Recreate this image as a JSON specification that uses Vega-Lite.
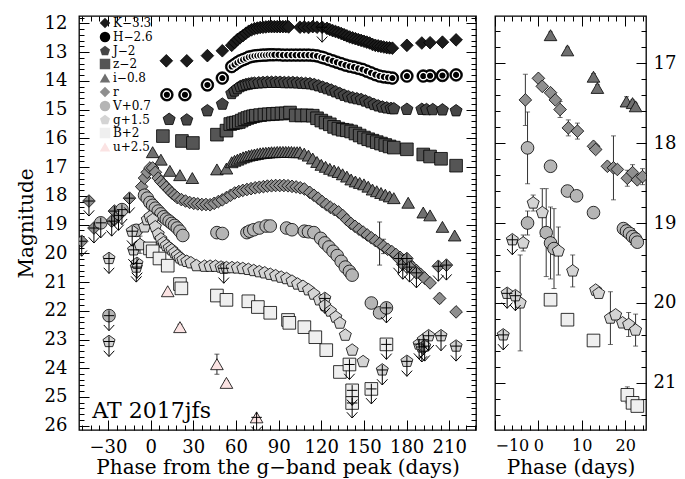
{
"$schema": "https://vega.github.io/schema/vega-lite/v6.json",
"padding": {"left": 15, "top": 13, "right": 2, "bottom": 0},
"config": {
  "font": "DejaVu Serif",
  "view": {"stroke": "black", "strokeWidth": 1.3},
  "axis": {"grid": false, "domain": false, "tickColor": "black", "labelColor": "black", "titleColor": "black", "titleFontWeight": "normal", "labelFont": "DejaVu Serif", "titleFont": "DejaVu Serif", "minExtent": 0, "tickWidth": 1, "labelOverlap": false}
},
"datasets": {
"L": [
{"b":"K","t":11,"m":13.3},{"b":"K","t":25.4,"m":13.3},{"b":"K","t":39.9,"m":13.12},{"b":"K","t":50.4,"m":12.95},
{"b":"K","t":57,"m":12.76},{"b":"K","t":59,"m":12.66},{"b":"K","t":61,"m":12.56},{"b":"K","t":63,"m":12.49},{"b":"K","t":65,"m":12.42},{"b":"K","t":67,"m":12.34},{"b":"K","t":69,"m":12.27},{"b":"K","t":71,"m":12.22},{"b":"K","t":73,"m":12.18},{"b":"K","t":75,"m":12.16},{"b":"K","t":77,"m":12.14},{"b":"K","t":79,"m":12.13},{"b":"K","t":81,"m":12.12},{"b":"K","t":83,"m":12.11},{"b":"K","t":85,"m":12.11},{"b":"K","t":87,"m":12.11},{"b":"K","t":89,"m":12.11},{"b":"K","t":91,"m":12.11},{"b":"K","t":93,"m":12.11},{"b":"K","t":95,"m":12.11},{"b":"K","t":97,"m":12.12},
{"b":"K","t":105,"m":12.13},{"b":"K","t":108,"m":12.12},{"b":"K","t":111,"m":12.14},{"b":"K","t":114,"m":12.11},{"b":"K","t":117,"m":12.13},{"b":"K","t":120.6,"m":12.13,"l":1},
{"b":"K","t":124,"m":12.17},{"b":"K","t":126,"m":12.21},{"b":"K","t":128,"m":12.25},{"b":"K","t":130,"m":12.28},{"b":"K","t":132,"m":12.31},{"b":"K","t":134,"m":12.35},{"b":"K","t":136,"m":12.39},{"b":"K","t":138,"m":12.43},{"b":"K","t":140,"m":12.47},{"b":"K","t":142,"m":12.5},{"b":"K","t":144,"m":12.53},{"b":"K","t":146,"m":12.56},{"b":"K","t":148,"m":12.59},{"b":"K","t":150,"m":12.62},{"b":"K","t":152,"m":12.65},{"b":"K","t":154,"m":12.68},{"b":"K","t":156,"m":12.73},{"b":"K","t":158,"m":12.76},{"b":"K","t":160,"m":12.78},{"b":"K","t":162,"m":12.8},{"b":"K","t":164,"m":12.82},{"b":"K","t":166,"m":12.84},{"b":"K","t":168,"m":12.85},{"b":"K","t":170,"m":12.86},
{"b":"K","t":180.2,"m":12.76},{"b":"K","t":190.7,"m":12.68},{"b":"K","t":196.5,"m":12.67},{"b":"K","t":205.2,"m":12.65},{"b":"K","t":214.8,"m":12.57},

{"b":"H","t":11.4,"m":14.48},{"b":"H","t":24.1,"m":14.48},{"b":"H","t":39.9,"m":14.14},{"b":"H","t":50.4,"m":13.9},
{"b":"H","t":57,"m":13.5},{"b":"H","t":59,"m":13.43},{"b":"H","t":61,"m":13.36},{"b":"H","t":63,"m":13.3},{"b":"H","t":65,"m":13.26},{"b":"H","t":67,"m":13.22},{"b":"H","t":69,"m":13.17},{"b":"H","t":71,"m":13.15},{"b":"H","t":73,"m":13.13},{"b":"H","t":75,"m":13.12},{"b":"H","t":77,"m":13.11},{"b":"H","t":79,"m":13.1},{"b":"H","t":81,"m":13.1},{"b":"H","t":83,"m":13.09},{"b":"H","t":85,"m":13.09},{"b":"H","t":87,"m":13.09},{"b":"H","t":90,"m":13.09},{"b":"H","t":93,"m":13.1},{"b":"H","t":96,"m":13.1},{"b":"H","t":99,"m":13.1},{"b":"H","t":102,"m":13.1},{"b":"H","t":105,"m":13.1},{"b":"H","t":108,"m":13.1},{"b":"H","t":111,"m":13.1},{"b":"H","t":114,"m":13.11},{"b":"H","t":117,"m":13.13},{"b":"H","t":120,"m":13.17},{"b":"H","t":122,"m":13.2},{"b":"H","t":125,"m":13.25},{"b":"H","t":128,"m":13.3},{"b":"H","t":131,"m":13.35},{"b":"H","t":134,"m":13.4},{"b":"H","t":137,"m":13.45},{"b":"H","t":140,"m":13.49},{"b":"H","t":143,"m":13.52},{"b":"H","t":146,"m":13.56},{"b":"H","t":149,"m":13.6},{"b":"H","t":152,"m":13.66},{"b":"H","t":155,"m":13.72},{"b":"H","t":158,"m":13.78},{"b":"H","t":161,"m":13.83},{"b":"H","t":164,"m":13.86},{"b":"H","t":167,"m":13.88},{"b":"H","t":170,"m":13.9},
{"b":"H","t":180.2,"m":13.83},{"b":"H","t":191.7,"m":13.83},{"b":"H","t":196.5,"m":13.82},{"b":"H","t":205.2,"m":13.81},{"b":"H","t":214.8,"m":13.79},

{"b":"J","t":13,"m":15.34},{"b":"J","t":25.4,"m":15.36},{"b":"J","t":39.9,"m":15.04},{"b":"J","t":50.4,"m":14.81},
{"b":"J","t":57,"m":14.44},{"b":"J","t":59,"m":14.35},{"b":"J","t":61,"m":14.27},{"b":"J","t":63,"m":14.2},{"b":"J","t":65,"m":14.16},{"b":"J","t":67,"m":14.13},{"b":"J","t":69,"m":14.11},{"b":"J","t":71,"m":14.09},{"b":"J","t":73,"m":14.08},{"b":"J","t":76,"m":14.07},{"b":"J","t":79,"m":14.06},{"b":"J","t":82,"m":14.05},{"b":"J","t":85,"m":14.05},{"b":"J","t":88,"m":14.05},{"b":"J","t":91,"m":14.05},{"b":"J","t":94,"m":14.06},{"b":"J","t":97,"m":14.06},{"b":"J","t":100,"m":14.06},{"b":"J","t":103,"m":14.07},{"b":"J","t":106,"m":14.08},{"b":"J","t":109,"m":14.09},{"b":"J","t":112,"m":14.1},{"b":"J","t":115,"m":14.13},{"b":"J","t":118,"m":14.17},{"b":"J","t":121,"m":14.22},{"b":"J","t":124,"m":14.27},{"b":"J","t":127,"m":14.32},{"b":"J","t":130,"m":14.38},{"b":"J","t":133,"m":14.44},{"b":"J","t":136,"m":14.5},{"b":"J","t":139,"m":14.55},{"b":"J","t":142,"m":14.59},{"b":"J","t":145,"m":14.62},{"b":"J","t":148,"m":14.65},{"b":"J","t":151,"m":14.7},{"b":"J","t":154,"m":14.76},{"b":"J","t":157,"m":14.82},{"b":"J","t":160,"m":14.87},{"b":"J","t":163,"m":14.91},{"b":"J","t":166,"m":14.94},{"b":"J","t":169,"m":14.96},{"b":"J","t":171,"m":14.97},
{"b":"J","t":180.2,"m":14.99},{"b":"J","t":190.7,"m":14.99},{"b":"J","t":194,"m":15.0},{"b":"J","t":198.4,"m":15.0},{"b":"J","t":205.2,"m":15.01},{"b":"J","t":214.8,"m":15.04},

{"b":"z","t":8.6,"m":15.92},{"b":"z","t":22,"m":16.09},{"b":"z","t":29.7,"m":16.16},{"b":"z","t":46.6,"m":15.87},{"b":"z","t":53.3,"m":15.73},
{"b":"z","t":56,"m":15.5},{"b":"z","t":58,"m":15.47},{"b":"z","t":60,"m":15.45},{"b":"z","t":62,"m":15.43},{"b":"z","t":64,"m":15.38},{"b":"z","t":66,"m":15.33},{"b":"z","t":68,"m":15.29},{"b":"z","t":70,"m":15.26},{"b":"z","t":72,"m":15.23},{"b":"z","t":74,"m":15.21},{"b":"z","t":77,"m":15.19},{"b":"z","t":80,"m":15.17},{"b":"z","t":83,"m":15.16},{"b":"z","t":86,"m":15.15},{"b":"z","t":89,"m":15.14},{"b":"z","t":92,"m":15.13},{"b":"z","t":95,"m":15.13},{"b":"z","t":98,"m":15.1},{"b":"z","t":102,"m":15.2},{"b":"z","t":106,"m":15.2},{"b":"z","t":110,"m":15.2},{"b":"z","t":114,"m":15.21},{"b":"z","t":117,"m":15.3},{"b":"z","t":120,"m":15.38},{"b":"z","t":123,"m":15.45},{"b":"z","t":126,"m":15.51},{"b":"z","t":129,"m":15.6},{"b":"z","t":132,"m":15.66},{"b":"z","t":135,"m":15.7},{"b":"z","t":138,"m":15.72},{"b":"z","t":141,"m":15.76},{"b":"z","t":144,"m":15.83},{"b":"z","t":147,"m":15.9},{"b":"z","t":150,"m":15.97},{"b":"z","t":153,"m":16.03},{"b":"z","t":156,"m":16.08},{"b":"z","t":159,"m":16.13},{"b":"z","t":162,"m":16.18},{"b":"z","t":165,"m":16.23},{"b":"z","t":168,"m":16.28},{"b":"z","t":171,"m":16.32},
{"b":"z","t":180.2,"m":16.38},{"b":"z","t":191.7,"m":16.56},{"b":"z","t":196.5,"m":16.63},{"b":"z","t":204.2,"m":16.71,"e":0.06},{"b":"z","t":214.8,"m":16.95,"e":0.06},

{"b":"i","t":1.4,"m":16.48,"e":0.05},{"b":"i","t":7.2,"m":16.74},{"b":"i","t":13.5,"m":17.13,"e":0.05},{"b":"i","t":20.6,"m":17.28},{"b":"i","t":29.3,"m":17.38,"e":0.04},{"b":"i","t":46.6,"m":17.08},{"b":"i","t":53.3,"m":17.05},
{"b":"i","t":57,"m":16.83},{"b":"i","t":59,"m":16.78},{"b":"i","t":61,"m":16.74},{"b":"i","t":63,"m":16.7},{"b":"i","t":65,"m":16.66},{"b":"i","t":67,"m":16.63},{"b":"i","t":69,"m":16.6},{"b":"i","t":71,"m":16.58},{"b":"i","t":73,"m":16.56},{"b":"i","t":75,"m":16.54},{"b":"i","t":77,"m":16.52},{"b":"i","t":79,"m":16.51},{"b":"i","t":81,"m":16.5},{"b":"i","t":83,"m":16.49},{"b":"i","t":85,"m":16.48},{"b":"i","t":87,"m":16.48},{"b":"i","t":89,"m":16.47},{"b":"i","t":91,"m":16.47},{"b":"i","t":93,"m":16.47},{"b":"i","t":95,"m":16.47},{"b":"i","t":97,"m":16.47},{"b":"i","t":99,"m":16.47},{"b":"i","t":101,"m":16.48},{"b":"i","t":103,"m":16.48},{"b":"i","t":105,"m":16.48},{"b":"i","t":108,"m":16.53},{"b":"i","t":111,"m":16.6},{"b":"i","t":114,"m":16.7},{"b":"i","t":117,"m":16.82},{"b":"i","t":120,"m":16.92},{"b":"i","t":123,"m":16.99},{"b":"i","t":126,"m":17.06},{"b":"i","t":129,"m":17.12},{"b":"i","t":132,"m":17.17},{"b":"i","t":135,"m":17.25},{"b":"i","t":138,"m":17.33},{"b":"i","t":141,"m":17.43},{"b":"i","t":144,"m":17.5},{"b":"i","t":147,"m":17.55},{"b":"i","t":150,"m":17.6},{"b":"i","t":153,"m":17.68},{"b":"i","t":156,"m":17.78},{"b":"i","t":159,"m":17.84},{"b":"i","t":162,"m":17.9},{"b":"i","t":165,"m":17.96},{"b":"i","t":168,"m":18.02},{"b":"i","t":171,"m":18.08},
{"b":"i","t":181.1,"m":18.24},{"b":"i","t":191.7,"m":18.58},{"b":"i","t":196.5,"m":18.68},{"b":"i","t":205.2,"m":19.08},{"b":"i","t":213.8,"m":19.38},

{"b":"r","t":-48.5,"m":19.58,"l":1},{"b":"r","t":-43.4,"m":18.18,"l":1},{"b":"r","t":-39.9,"m":19.12,"l":1},{"b":"r","t":-27.4,"m":18.88,"l":1},{"b":"r","t":-25.5,"m":18.53,"l":1},{"b":"r","t":-22.6,"m":18.68,"l":1},{"b":"r","t":-14.9,"m":18.08,"l":1},
{"b":"r","t":-6.3,"m":17.68,"e":0.12},{"b":"r","t":-4.3,"m":17.38,"e":0.1},{"b":"r","t":-2.4,"m":17.18},{"b":"r","t":-0.5,"m":17.03},{"b":"r","t":1.4,"m":17.03},{"b":"r","t":3.3,"m":17.18},{"b":"r","t":5.3,"m":17.38},{"b":"r","t":7.2,"m":17.5},{"b":"r","t":9.1,"m":17.6},{"b":"r","t":11,"m":17.7},{"b":"r","t":13,"m":17.8},{"b":"r","t":14.9,"m":17.9},{"b":"r","t":16.8,"m":17.98},{"b":"r","t":18.7,"m":18.06},{"b":"r","t":21.6,"m":18.13,"e":0.06},{"b":"r","t":24.5,"m":18.18},{"b":"r","t":27.4,"m":18.23},{"b":"r","t":30.3,"m":18.26},{"b":"r","t":33.1,"m":18.28},{"b":"r","t":36,"m":18.3},{"b":"r","t":38.9,"m":18.3},{"b":"r","t":41.8,"m":18.31},{"b":"r","t":44.7,"m":18.26},{"b":"r","t":47.6,"m":18.2},{"b":"r","t":50.4,"m":18.14},{"b":"r","t":53.3,"m":18.06},{"b":"r","t":56.2,"m":17.98},{"b":"r","t":59.1,"m":17.9},{"b":"r","t":62,"m":17.85},{"b":"r","t":64.8,"m":17.81},{"b":"r","t":67.7,"m":17.78},{"b":"r","t":70.6,"m":17.75},{"b":"r","t":73.5,"m":17.72},{"b":"r","t":76.4,"m":17.7},{"b":"r","t":79.3,"m":17.68},{"b":"r","t":82.1,"m":17.66},{"b":"r","t":85,"m":17.65},{"b":"r","t":87.9,"m":17.64},{"b":"r","t":90.8,"m":17.64},{"b":"r","t":93.7,"m":17.64},{"b":"r","t":96.6,"m":17.65},{"b":"r","t":99.4,"m":17.67},{"b":"r","t":102.3,"m":17.69},{"b":"r","t":105.2,"m":17.72},{"b":"r","t":108.1,"m":17.76},{"b":"r","t":111.9,"m":17.88,"e":0.06},{"b":"r","t":114.8,"m":17.98},{"b":"r","t":117.7,"m":18.08},{"b":"r","t":120.6,"m":18.2},{"b":"r","t":123.5,"m":18.3},{"b":"r","t":126.4,"m":18.4},{"b":"r","t":129.2,"m":18.48},{"b":"r","t":132.1,"m":18.56},{"b":"r","t":135,"m":18.68},{"b":"r","t":137.9,"m":18.83},{"b":"r","t":140.8,"m":18.96},{"b":"r","t":143.7,"m":19.06},{"b":"r","t":146.5,"m":19.16},{"b":"r","t":149.4,"m":19.26},{"b":"r","t":152.3,"m":19.36},{"b":"r","t":155.2,"m":19.46},{"b":"r","t":158.1,"m":19.56},{"b":"r","t":161,"m":19.66,"e":0.75},{"b":"r","t":163.8,"m":19.76,"e":0.25},{"b":"r","t":166.7,"m":19.86},{"b":"r","t":169.6,"m":19.94},{"b":"r","t":172.5,"m":20.04},{"b":"r","t":175.4,"m":20.14},{"b":"r","t":178.2,"m":20.24},{"b":"r","t":181.1,"m":20.33},{"b":"r","t":184,"m":20.48},{"b":"r","t":186.9,"m":20.6},{"b":"r","t":189.8,"m":20.73},{"b":"r","t":192.7,"m":20.86},{"b":"r","t":196.5,"m":21.03},{"b":"r","t":203.2,"m":21.57,"e":0.15},{"b":"r","t":214.8,"m":22.04,"e":0.1},
{"b":"r","t":174.4,"m":20.18,"l":1},{"b":"r","t":177.3,"m":20.38,"l":1},{"b":"r","t":180.2,"m":20.18,"l":1},{"b":"r","t":182.1,"m":20.48,"l":1},{"b":"r","t":186.9,"m":20.68,"l":1},{"b":"r","t":202.3,"m":20.45,"l":1},{"b":"r","t":208,"m":20.41,"l":1},

{"b":"V","t":-35.1,"m":18.94,"l":1},{"b":"V","t":-20.2,"m":18.48,"l":1},{"b":"V","t":-29.3,"m":22.17,"l":1},{"b":"V","t":-10.1,"m":19.2,"e":0.2},
{"b":"V","t":-4.3,"m":17.98},{"b":"V","t":-2.4,"m":18.08},{"b":"V","t":-0.5,"m":18.23},{"b":"V","t":1.4,"m":18.33},{"b":"V","t":3.3,"m":18.43},{"b":"V","t":5.3,"m":18.53},{"b":"V","t":7.2,"m":18.63},{"b":"V","t":9.1,"m":18.73},{"b":"V","t":11,"m":18.81},{"b":"V","t":13,"m":18.88},{"b":"V","t":14.9,"m":18.96},{"b":"V","t":16.8,"m":19.03},{"b":"V","t":18.7,"m":19.12},{"b":"V","t":20.6,"m":19.23},{"b":"V","t":22.6,"m":19.38},
{"b":"V","t":46.6,"m":19.28},{"b":"V","t":50.4,"m":19.31},{"b":"V","t":67.7,"m":19.28},{"b":"V","t":69.7,"m":19.23},{"b":"V","t":72.5,"m":19.18},{"b":"V","t":76.4,"m":19.12},{"b":"V","t":81.2,"m":19.05},{"b":"V","t":84.1,"m":19.05},{"b":"V","t":95.6,"m":19.12},{"b":"V","t":99.4,"m":19.18},{"b":"V","t":108.1,"m":19.23},{"b":"V","t":111,"m":19.25},{"b":"V","t":114.8,"m":19.28},{"b":"V","t":119.6,"m":19.48},{"b":"V","t":122.5,"m":19.64},{"b":"V","t":125.4,"m":19.78},{"b":"V","t":128.3,"m":19.93},{"b":"V","t":131.2,"m":20.08},{"b":"V","t":134,"m":20.28},{"b":"V","t":136.9,"m":20.48},{"b":"V","t":139.8,"m":20.63},{"b":"V","t":141.7,"m":20.76},
{"b":"V","t":155.2,"m":21.73,"e":0.15},{"b":"V","t":161,"m":22.07,"e":0.15},{"b":"V","t":165.8,"m":21.9,"l":1},

{"b":"g","t":-29.3,"m":20.18,"l":1},{"b":"g","t":-29.3,"m":23.07,"l":1},{"b":"g","t":-13,"m":19.23,"l":1},{"b":"g","t":-12,"m":19.88,"l":1},{"b":"g","t":-10.1,"m":20.48,"l":1},{"b":"g","t":-9.6,"m":20.35,"l":1},{"b":"g","t":-7.5,"m":19.7,"e":0.3},
{"b":"g","t":-4.3,"m":19.08},{"b":"g","t":-2.4,"m":18.83},{"b":"g","t":-0.5,"m":18.73},{"b":"g","t":1.4,"m":18.83},{"b":"g","t":3.3,"m":19.08},{"b":"g","t":5.3,"m":19.33},{"b":"g","t":7.2,"m":19.5},{"b":"g","t":9.1,"m":19.63},{"b":"g","t":11,"m":19.73},{"b":"g","t":13,"m":19.81},{"b":"g","t":14.9,"m":19.88},{"b":"g","t":16.8,"m":19.98},{"b":"g","t":18.7,"m":20.08},{"b":"g","t":20.6,"m":20.16,"e":0.2},{"b":"g","t":22.6,"m":20.23},{"b":"g","t":25.4,"m":20.28},{"b":"g","t":28.3,"m":20.33},{"b":"g","t":32.2,"m":20.43},{"b":"g","t":37.9,"m":20.45},{"b":"g","t":41.8,"m":20.45},{"b":"g","t":45.6,"m":20.45},{"b":"g","t":49.5,"m":20.48},{"b":"g","t":51.4,"m":20.52,"l":1},{"b":"g","t":53.3,"m":20.5},{"b":"g","t":57.2,"m":20.5},{"b":"g","t":61,"m":20.51},{"b":"g","t":64.8,"m":20.53},{"b":"g","t":68.7,"m":20.56},{"b":"g","t":72.5,"m":20.6},{"b":"g","t":76.4,"m":20.64},{"b":"g","t":80.2,"m":20.68},{"b":"g","t":84.1,"m":20.73},{"b":"g","t":87.9,"m":20.78},{"b":"g","t":91.8,"m":20.83},{"b":"g","t":95.6,"m":20.88},{"b":"g","t":99.4,"m":20.97},{"b":"g","t":103.3,"m":21.07},{"b":"g","t":107.1,"m":21.15},{"b":"g","t":111,"m":21.27},{"b":"g","t":114.8,"m":21.42},{"b":"g","t":118.7,"m":21.62},{"b":"g","t":122.5,"m":21.57,"l":1},{"b":"g","t":122.5,"m":21.82},{"b":"g","t":126.4,"m":22.01},{"b":"g","t":130.2,"m":22.22},{"b":"g","t":133.1,"m":22.43},{"b":"g","t":136.9,"m":22.85,"e":0.1},{"b":"g","t":141.7,"m":23.37},{"b":"g","t":149.4,"m":23.77},
{"b":"g","t":162.9,"m":24.06,"l":1},{"b":"g","t":180.2,"m":23.76,"l":1},{"b":"g","t":188.8,"m":23.16,"l":1},{"b":"g","t":190.7,"m":23.26,"l":1},{"b":"g","t":191.7,"m":23.01,"l":1},{"b":"g","t":192.7,"m":23.23,"l":1},{"b":"g","t":195.5,"m":22.87,"l":1},{"b":"g","t":204.2,"m":22.87,"l":1},{"b":"g","t":214.8,"m":23.23,"l":1},

{"b":"B","t":-0.5,"m":19.83},{"b":"B","t":1.4,"m":19.93},{"b":"B","t":6.2,"m":20.18},{"b":"B","t":12,"m":20.43},{"b":"B","t":20.6,"m":21.07},{"b":"B","t":21.6,"m":21.22,"e":0.15},{"b":"B","t":46.6,"m":21.47},{"b":"B","t":53.3,"m":21.62},{"b":"B","t":68.7,"m":21.67},{"b":"B","t":75.4,"m":21.87},{"b":"B","t":84.1,"m":22.07},{"b":"B","t":96.6,"m":22.32},{"b":"B","t":97.5,"m":22.42},{"b":"B","t":108.1,"m":22.57},{"b":"B","t":115.8,"m":22.92,"e":0.1},{"b":"B","t":123.5,"m":23.37,"e":0.15},{"b":"B","t":133.1,"m":24.13,"e":0.15},
{"b":"B","t":139.8,"m":23.87,"l":1},{"b":"B","t":141.7,"m":24.77,"l":1},{"b":"B","t":141.7,"m":25.21,"l":1},{"b":"B","t":155.2,"m":24.72,"l":1},{"b":"B","t":165.8,"m":23.17,"l":1},

{"b":"u","t":12,"m":21.32},{"b":"u","t":20.6,"m":22.57,"e":0.1},{"b":"u","t":46.6,"m":23.86,"e":0.35},{"b":"u","t":53.3,"m":24.51,"e":0.08},{"b":"u","t":74.5,"m":25.71,"l":1}
],
"R": [
{"b":"i","t":2.8,"m":16.65,"e":0.04},{"b":"i","t":6.7,"m":16.84,"e":0.04},{"b":"i","t":12.7,"m":17.17,"e":0.04},{"b":"i","t":13.6,"m":17.31,"e":0.04},{"b":"i","t":20.3,"m":17.48,"e":0.06},{"b":"i","t":21.7,"m":17.5,"e":0.04},{"b":"i","t":22.4,"m":17.54,"e":0.04},
{"b":"r","t":-3,"m":17.46,"e":0.32},{"b":"r","t":0,"m":17.19,"e":0.04},{"b":"r","t":0.9,"m":17.29},{"b":"r","t":2.8,"m":17.37,"e":0.05},{"b":"r","t":3.9,"m":17.46},{"b":"r","t":5,"m":17.58,"e":0.1},{"b":"r","t":6.9,"m":17.81,"e":0.1},{"b":"r","t":9,"m":17.85,"e":0.1},{"b":"r","t":12.7,"m":18.04,"e":0.05},{"b":"r","t":13.2,"m":18.08},{"b":"r","t":15.9,"m":18.29,"e":0.05},{"b":"r","t":17.3,"m":18.31,"e":0.4},{"b":"r","t":18.2,"m":18.33},{"b":"r","t":20.5,"m":18.44,"e":0.1},{"b":"r","t":21.7,"m":18.37,"e":0.1},{"b":"r","t":22.8,"m":18.46},{"b":"r","t":24,"m":18.42,"e":0.1},
{"b":"V","t":-2.5,"m":18.06,"e":0.45},{"b":"V","t":2.8,"m":18.29},{"b":"V","t":6.7,"m":18.6,"e":0.04},{"b":"V","t":8.8,"m":18.66,"e":0.04},{"b":"V","t":12.7,"m":18.87},{"b":"V","t":19.6,"m":19.07},{"b":"V","t":20.3,"m":19.1},{"b":"V","t":21,"m":19.13},{"b":"V","t":21.7,"m":19.17,"e":0.1},{"b":"V","t":22.4,"m":19.2},{"b":"V","t":22.8,"m":19.24},{"b":"V","t":-2.5,"m":19.0,"e":0.15},{"b":"V","t":1.8,"m":19.12,"e":0.55},{"b":"V","t":2.8,"m":19.25,"e":0.45},{"b":"V","t":3.6,"m":19.32,"e":0.5},
{"b":"g","t":-1.2,"m":18.75,"e":0.1},{"b":"g","t":0.9,"m":18.87,"e":0.3},{"b":"g","t":-3.5,"m":19.25,"e":0.1},{"b":"g","t":4.6,"m":19.35,"e":0.3},{"b":"g","t":7.9,"m":19.6,"e":0.2},{"b":"g","t":13.2,"m":19.84},{"b":"g","t":13.9,"m":19.88},{"b":"g","t":16.6,"m":20.19,"e":0.33},{"b":"g","t":17.8,"m":20.15},{"b":"g","t":19.4,"m":20.25},{"b":"g","t":20.8,"m":20.27,"e":0.15},{"b":"g","t":22.4,"m":20.34,"e":0.2},{"b":"g","t":-4.2,"m":20.0,"e":0.6},
{"b":"g","t":-7.2,"m":19.88,"l":1},{"b":"g","t":-5.3,"m":19.91,"l":1},{"b":"g","t":-8.1,"m":20.4,"l":1},{"b":"g","t":-6,"m":19.21,"l":1},
{"b":"B","t":2.8,"m":19.96},{"b":"B","t":6.7,"m":20.21},{"b":"B","t":12.7,"m":20.47},{"b":"B","t":20.5,"m":21.15,"e":0.1},{"b":"B","t":21.7,"m":21.25},{"b":"B","t":22.8,"m":21.29}
]
},
"bounds": "flush",
"spacing": 19,
"hconcat": [
{
  "width": 397, "height": 414,
  "data": {"name": "L"},
  "layer": [
    {"transform": [{"filter": "datum.e > 0"}],
     "mark": {"type": "errorbar", "ticks": true, "color": "#222", "thickness": 1, "clip": true},
     "encoding": {
       "x": {"field": "t", "type": "quantitative", "scale": {"domain": [-50.4, 228.8], "nice": false, "zero": false}, "axis": null},
       "y": {"field": "m", "type": "quantitative", "scale": {"domain": [11.74, 26.15], "reverse": true, "nice": false, "zero": false}, "axis": null},
       "yError": {"field": "e"}}},
    {"mark": {"type": "point", "filled": true, "opacity": 1, "stroke": "black", "strokeWidth": 0.8, "size": 160, "clip": true},
     "encoding": {
       "x": {"field": "t", "type": "quantitative", "scale": {"domain": [-50.4, 228.8], "nice": false, "zero": false},
             "axis": {"orient": "bottom", "values": [-30, 0, 30, 60, 90, 120, 150, 180, 210], "tickSize": -10, "labelFontSize": 18, "labelPadding": 18, "title": "Phase from the g\u2212band peak (days)", "titleFontSize": 20, "titlePadding": 1}},
       "y": {"field": "m", "type": "quantitative", "scale": {"domain": [11.74, 26.15], "reverse": true, "nice": false, "zero": false},
             "axis": {"orient": "left", "values": [12,13,14,15,16,17,18,19,20,21,22,23,24,25,26], "tickSize": -10, "labelFontSize": 18, "labelPadding": 22, "title": "Magnitude", "titleFontSize": 20, "titlePadding": 8}},
       "shape": {"field": "b", "type": "nominal",
                 "scale": {"domain": ["K","H","J","z","i","r","V","g","B","u"], "range": ["diamond","circle","M0,-1L0.951,-0.309L0.588,0.809L-0.588,0.809L-0.951,-0.309Z","square","triangle-up","diamond","circle","M0,-1L0.951,-0.309L0.588,0.809L-0.588,0.809L-0.951,-0.309Z","square","triangle-up"]},
                 "legend": {"orient": "none", "legendX": 20, "legendY": 1, "title": null, "labelFontSize": 12, "symbolSize": 110, "rowPadding": 0, "labelOffset": 2, "symbolStrokeColor": "black", "symbolStrokeWidth": 0.8, "padding": 0,
                            "labelExpr": "{'K':'K\u22123.3','H':'H\u22122.6','J':'\u2002J\u22122','z':'\u2002z\u22122','i':'i\u22120.8','r':'\u2002\u2002r','V':'V+0.7','g':'g+1.5','B':'\u2002B+2','u':'u+2.5'}[datum.label]"}},
       "fill": {"field": "b", "type": "nominal",
                "scale": {"domain": ["K","H","J","z","i","r","V","g","B","u"], "range": ["#1c1c1c","#000000","#454545","#555555","#6f6f6f","#8f8f8f","#b5b5b5","#d4d4d4","#efefef","#fbe3e3"]},
                "legend": {"orient": "none", "legendX": 20, "legendY": 1, "title": null, "labelFontSize": 12, "symbolSize": 110, "rowPadding": 0, "labelOffset": 2, "symbolStrokeColor": "black", "symbolStrokeWidth": 0.8, "padding": 0,
                            "labelExpr": "{'K':'K\u22123.3','H':'H\u22122.6','J':'\u2002J\u22122','z':'\u2002z\u22122','i':'i\u22120.8','r':'\u2002\u2002r','V':'V+0.7','g':'g+1.5','B':'\u2002B+2','u':'u+2.5'}[datum.label]"}}}},
    {"transform": [{"filter": "datum.b == 'H'"}],
     "mark": {"type": "point", "shape": "circle", "filled": true, "opacity": 1, "fill": "black", "stroke": "white", "strokeWidth": 1.3, "size": 55, "clip": true},
     "encoding": {
       "x": {"field": "t", "type": "quantitative", "scale": {"domain": [-50.4, 228.8], "nice": false, "zero": false},
             "axis": {"orient": "bottom", "values": [-48,-42,-36,-30,-24,-18,-12,-6,0,6,12,18,24,30,36,42,48,54,60,66,72,78,84,90,96,102,108,114,120,126,132,138,144,150,156,162,168,174,180,186,192,198,204,210,216,222,228], "tickSize": -5, "labels": false, "title": null}},
       "y": {"field": "m", "type": "quantitative", "scale": {"domain": [11.74, 26.15], "reverse": true, "nice": false, "zero": false},
             "axis": {"orient": "left", "values": [11.8,12,12.2,12.4,12.6,12.8,13,13.2,13.4,13.6,13.8,14,14.2,14.4,14.6,14.8,15,15.2,15.4,15.6,15.8,16,16.2,16.4,16.6,16.8,17,17.2,17.4,17.6,17.8,18,18.2,18.4,18.6,18.8,19,19.2,19.4,19.6,19.8,20,20.2,20.4,20.6,20.8,21,21.2,21.4,21.6,21.8,22,22.2,22.4,22.6,22.8,23,23.2,23.4,23.6,23.8,24,24.2,24.4,24.6,24.8,25,25.2,25.4,25.6,25.8,26], "tickSize": -5, "labels": false, "title": null}}}},
    {"transform": [{"filter": "datum.l == 1"}],
     "mark": {"type": "point", "shape": "M0,-0.35L0,1M-0.35,0.62L0,1L0.35,0.62M-0.35,0L0.35,0", "filled": false, "color": "black", "stroke": "black", "strokeWidth": 1, "size": 900, "opacity": 1, "clip": true},
     "encoding": {
       "x": {"field": "t", "type": "quantitative", "scale": {"domain": [-50.4, 228.8], "nice": false, "zero": false},
             "axis": {"orient": "top", "values": [-30, 0, 30, 60, 90, 120, 150, 180, 210], "tickSize": -10, "labels": false, "title": null}},
       "y": {"field": "m", "type": "quantitative", "scale": {"domain": [11.74, 26.15], "reverse": true, "nice": false, "zero": false},
             "axis": {"orient": "right", "values": [12,13,14,15,16,17,18,19,20,21,22,23,24,25,26], "tickSize": -10, "labels": false, "title": null}}}},
    {"data": {"values": [{"name": "AT 2017jfs"}]},
     "mark": {"type": "text", "align": "left", "baseline": "middle", "fontSize": 22, "font": "DejaVu Serif", "color": "black"},
     "encoding": {
       "text": {"field": "name"},
       "x": {"datum": -41, "type": "quantitative", "scale": {"domain": [-50.4, 228.8], "nice": false, "zero": false},
             "axis": {"orient": "top", "values": [-48,-42,-36,-30,-24,-18,-12,-6,0,6,12,18,24,30,36,42,48,54,60,66,72,78,84,90,96,102,108,114,120,126,132,138,144,150,156,162,168,174,180,186,192,198,204,210,216,222,228], "tickSize": -5, "labels": false, "title": null}},
       "y": {"datum": 25.5, "type": "quantitative", "scale": {"domain": [11.74, 26.15], "reverse": true, "nice": false, "zero": false},
             "axis": {"orient": "right", "values": [11.8,12,12.2,12.4,12.6,12.8,13,13.2,13.4,13.6,13.8,14,14.2,14.4,14.6,14.8,15,15.2,15.4,15.6,15.8,16,16.2,16.4,16.6,16.8,17,17.2,17.4,17.6,17.8,18,18.2,18.4,18.6,18.8,19,19.2,19.4,19.6,19.8,20,20.2,20.4,20.6,20.8,21,21.2,21.4,21.6,21.8,22,22.2,22.4,22.6,22.8,23,23.2,23.4,23.6,23.8,24,24.2,24.4,24.6,24.8,25,25.2,25.4,25.6,25.8,26], "tickSize": -5, "labels": false, "title": null}}}}
  ],
  "resolve": {"axis": {"x": "independent", "y": "independent"}}
},
{
  "width": 151, "height": 414,
  "data": {"name": "R"},
  "layer": [
    {"transform": [{"filter": "datum.e > 0"}],
     "mark": {"type": "errorbar", "ticks": true, "color": "#333", "thickness": 1, "clip": true},
     "encoding": {
       "x": {"field": "t", "type": "quantitative", "scale": {"domain": [-10, 24.8], "nice": false, "zero": false}, "axis": null},
       "y": {"field": "m", "type": "quantitative", "scale": {"domain": [16.41, 21.59], "reverse": true, "nice": false, "zero": false}, "axis": null},
       "yError": {"field": "e"}}},
    {"mark": {"type": "point", "filled": true, "opacity": 1, "stroke": "black", "strokeWidth": 0.8, "size": 160, "clip": true},
     "encoding": {
       "x": {"field": "t", "type": "quantitative", "scale": {"domain": [-10, 24.8], "nice": false, "zero": false},
             "axis": {"orient": "bottom", "values": [-10, 0, 10, 20], "tickSize": -10, "labelFontSize": 16, "labelPadding": 17, "title": "Phase (days)", "titleFontSize": 20, "titlePadding": 4}},
       "y": {"field": "m", "type": "quantitative", "scale": {"domain": [16.41, 21.59], "reverse": true, "nice": false, "zero": false},
             "axis": {"orient": "right", "values": [17, 18, 19, 20, 21], "tickSize": -10, "labelFontSize": 18, "labelPadding": 17, "title": null}},
       "shape": {"field": "b", "type": "nominal",
                 "scale": {"domain": ["K","H","J","z","i","r","V","g","B","u"], "range": ["diamond","circle","M0,-1L0.951,-0.309L0.588,0.809L-0.588,0.809L-0.951,-0.309Z","square","triangle-up","diamond","circle","M0,-1L0.951,-0.309L0.588,0.809L-0.588,0.809L-0.951,-0.309Z","square","triangle-up"]}, "legend": null},
       "fill": {"field": "b", "type": "nominal",
                "scale": {"domain": ["K","H","J","z","i","r","V","g","B","u"], "range": ["#1c1c1c","#000000","#454545","#555555","#6f6f6f","#8f8f8f","#b5b5b5","#d4d4d4","#efefef","#fbe3e3"]}, "legend": null}}},
    {"transform": [{"filter": "datum.l == 1"}],
     "mark": {"type": "point", "shape": "M0,-0.35L0,1M-0.35,0.62L0,1L0.35,0.62M-0.35,0L0.35,0", "filled": false, "color": "black", "stroke": "black", "strokeWidth": 1, "size": 900, "opacity": 1, "clip": true},
     "encoding": {
       "x": {"field": "t", "type": "quantitative", "scale": {"domain": [-10, 24.8], "nice": false, "zero": false},
             "axis": {"orient": "bottom", "values": [-10,-8,-6,-4,-2,0,2,4,6,8,10,12,14,16,18,20,22,24], "tickSize": -5, "labels": false, "title": null}},
       "y": {"field": "m", "type": "quantitative", "scale": {"domain": [16.41, 21.59], "reverse": true, "nice": false, "zero": false},
             "axis": {"orient": "right", "values": [16.6,16.8,17,17.2,17.4,17.6,17.8,18,18.2,18.4,18.6,18.8,19,19.2,19.4,19.6,19.8,20,20.2,20.4,20.6,20.8,21,21.2,21.4], "tickSize": -5, "labels": false, "title": null}}}},
    {"mark": {"type": "point", "opacity": 0},
     "encoding": {
       "x": {"field": "t", "type": "quantitative", "scale": {"domain": [-10, 24.8], "nice": false, "zero": false},
             "axis": {"orient": "top", "values": [-10, 0, 10, 20], "tickSize": -10, "labels": false, "title": null}},
       "y": {"field": "m", "type": "quantitative", "scale": {"domain": [16.41, 21.59], "reverse": true, "nice": false, "zero": false},
             "axis": {"orient": "left", "values": [17, 18, 19, 20, 21], "tickSize": -10, "labels": false, "title": null}}}},
    {"mark": {"type": "point", "opacity": 0},
     "encoding": {
       "x": {"field": "t", "type": "quantitative", "scale": {"domain": [-10, 24.8], "nice": false, "zero": false},
             "axis": {"orient": "top", "values": [-10,-8,-6,-4,-2,0,2,4,6,8,10,12,14,16,18,20,22,24], "tickSize": -5, "labels": false, "title": null}},
       "y": {"field": "m", "type": "quantitative", "scale": {"domain": [16.41, 21.59], "reverse": true, "nice": false, "zero": false},
             "axis": {"orient": "left", "values": [16.6,16.8,17,17.2,17.4,17.6,17.8,18,18.2,18.4,18.6,18.8,19,19.2,19.4,19.6,19.8,20,20.2,20.4,20.6,20.8,21,21.2,21.4], "tickSize": -5, "labels": false, "title": null}}}}
  ],
  "resolve": {"axis": {"x": "independent", "y": "independent"}}
}
]
}
